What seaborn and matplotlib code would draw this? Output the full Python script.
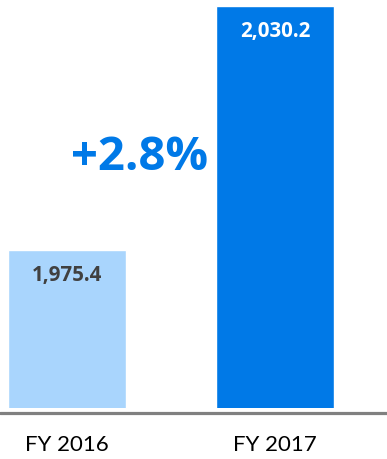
import matplotlib
matplotlib.use("Agg")
import matplotlib.pyplot as plt
import seaborn as sns
import pandas as pd
from matplotlib.lines import Line2D

categories = ["FY 2016", "FY 2017"]
values = [1975.4, 2030.2]
value_labels = ["1,975.4", "2,030.2"]
growth_label = "+2.8%"

colors = ["#A9D5FD", "#0079E7"]
label_colors = ["#404040", "#FFFFFF"]

sns.set_theme(style="white")
plt.rcParams['font.family'] = ['Lato', 'DejaVu Sans']

df = pd.DataFrame({"cat": categories, "val": values})

fig = plt.figure(figsize=(3.87, 4.59), dpi=100)
ax = fig.add_axes([0, (459 - 407.5) / 459, 1, 1 - (459 - 407.5) / 459])

sns.barplot(data=df, x="cat", y="val", hue="cat", palette=colors, width=0.567,
            legend=False, ax=ax, saturation=1)

ax.set_xlim(-0.322, 1.538)
ax.set_ylim(1940.0, 2031.55)

bold_family = ['Open Sans', 'DejaVu Sans']
for i, (v, lab) in enumerate(zip(values, value_labels)):
    ax.annotate(lab, (i, v), xytext=(0, -25.5), textcoords="offset pixels",
                ha="center", va="center", fontsize=14.8, fontweight="bold",
                color=label_colors[i], family=bold_family)

ax.text(140 / 387, (459 - 157) / 459, growth_label, transform=fig.transFigure,
        ha="center", va="center", fontsize=34, fontweight="bold", color="#0079E7",
        family=bold_family)

for s in ["top", "left", "right", "bottom"]:
    ax.spines[s].set_visible(False)
fig.add_artist(Line2D([0, 1], [(459 - 413.2) / 459] * 2, transform=fig.transFigure,
                      color="#808080", linewidth=2.3))

ax.set_yticks([])
ax.set_xlabel("")
ax.set_ylabel("")
ax.tick_params(axis="x", length=0, pad=20, labelsize=16, labelcolor="#000000")

fig.savefig("out.png", dpi=100)
